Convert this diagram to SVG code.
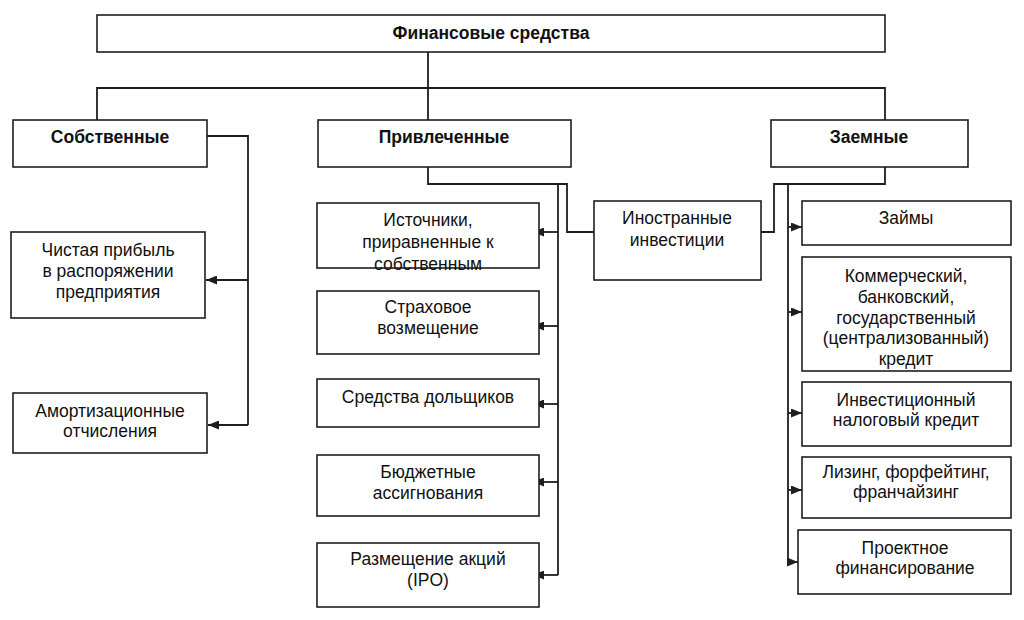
<svg xmlns="http://www.w3.org/2000/svg" width="1024" height="620" viewBox="0 0 1024 620">
<style>
.box{fill:#fff;stroke:#1e1e1e;stroke-width:1.6}
.t{font-family:"Liberation Sans",Arial,sans-serif;font-size:17.5px;fill:#111;text-anchor:middle}
.b{font-family:"Liberation Sans",Arial,sans-serif;font-size:17.5px;font-weight:bold;fill:#111;text-anchor:middle}
.c{fill:none;stroke:#1e1e1e;stroke-width:1.8}
</style>
<defs>
<marker id="arr" viewBox="0 0 11 9" refX="11" refY="4.5" markerWidth="11" markerHeight="9" markerUnits="userSpaceOnUse" orient="auto">
<path d="M0,0 L11,4.5 L0,9 z" fill="#1e1e1e"/>
</marker>
</defs>
<rect width="1024" height="620" fill="#fff"/>
<g id="connectors">
<path class="c" d="M428,52 V120"/>
<path class="c" d="M97,120 V88 H885 V120"/>
<path class="c" d="M207,136 H248 V425"/>
<path class="c" d="M248,280 H206" marker-end="url(#arr)"/>
<path class="c" d="M248,425 H208" marker-end="url(#arr)"/>
<path class="c" d="M428,167 V184 H567 V232 H594"/>
<path class="c" d="M558,184 V575"/>
<path class="c" d="M558,232 H533" marker-end="url(#arr)"/>
<path class="c" d="M558,326 H533" marker-end="url(#arr)"/>
<path class="c" d="M558,404 H533" marker-end="url(#arr)"/>
<path class="c" d="M558,482 H533" marker-end="url(#arr)"/>
<path class="c" d="M558,575 H533" marker-end="url(#arr)"/>
<path class="c" d="M885,167 V184 H774 V232 H761"/>
<path class="c" d="M788,184 V562"/>
<path class="c" d="M788,227 H802" marker-end="url(#arr)"/>
<path class="c" d="M788,312 H802" marker-end="url(#arr)"/>
<path class="c" d="M788,413 H802" marker-end="url(#arr)"/>
<path class="c" d="M788,490 H802" marker-end="url(#arr)"/>
<path class="c" d="M788,562 H798" marker-end="url(#arr)"/>
</g>
<g id="root"><rect class="box" x="97" y="15" width="788" height="37"/><text class="b" x="491" y="39">Финансовые средства</text></g>
<g id="own"><rect class="box" x="13" y="120" width="194" height="47"/><text class="b" x="110" y="143">Собственные</text></g>
<g id="attracted"><rect class="box" x="318" y="120" width="253" height="47"/><text class="b" x="444" y="143">Привлеченные</text></g>
<g id="borrowed"><rect class="box" x="771" y="120" width="197" height="47"/><text class="b" x="869" y="143">Заемные</text></g>
<g id="profit"><rect class="box" x="11" y="232" width="194" height="86"/><text class="t" x="108" y="256">Чистая прибыль</text><text class="t" x="108" y="277">в распоряжении</text><text class="t" x="108" y="298">предприятия</text></g>
<g id="amort"><rect class="box" x="13" y="393" width="194" height="60"/><text class="t" x="110" y="417">Амортизационные</text><text class="t" x="110" y="437">отчисления</text></g>
<g id="equiv"><rect class="box" x="317" y="203" width="222" height="65"/><text class="t" x="428" y="226">Источники,</text><text class="t" x="428" y="248">приравненные к</text><text class="t" x="428" y="270">собственным</text></g>
<g id="insurance"><rect class="box" x="317" y="291" width="222" height="63"/><text class="t" x="428" y="313">Страховое</text><text class="t" x="428" y="334">возмещение</text></g>
<g id="shareholders"><rect class="box" x="317" y="379" width="222" height="48"/><text class="t" x="428" y="403">Средства дольщиков</text></g>
<g id="budget"><rect class="box" x="317" y="455" width="222" height="61"/><text class="t" x="428" y="478">Бюджетные</text><text class="t" x="428" y="499">ассигнования</text></g>
<g id="ipo"><rect class="box" x="317" y="543" width="222" height="64"/><text class="t" x="428" y="565">Размещение акций</text><text class="t" x="428" y="586">(IPO)</text></g>
<g id="foreign"><rect class="box" x="594" y="201" width="167" height="79"/><text class="t" x="677" y="224">Иностранные</text><text class="t" x="677" y="246">инвестиции</text></g>
<g id="loans"><rect class="box" x="802" y="201" width="209" height="44"/><text class="t" x="906" y="224">Займы</text></g>
<g id="credit"><rect class="box" x="802" y="257" width="209" height="114"/><text class="t" x="906" y="282">Коммерческий,</text><text class="t" x="906" y="303">банковский,</text><text class="t" x="906" y="324">государственный</text><text class="t" x="906" y="344">(централизованный)</text><text class="t" x="906" y="365">кредит</text></g>
<g id="taxcredit"><rect class="box" x="802" y="382" width="209" height="64"/><text class="t" x="906" y="406">Инвестиционный</text><text class="t" x="906" y="426">налоговый кредит</text></g>
<g id="leasing"><rect class="box" x="802" y="457" width="209" height="61"/><text class="t" x="906" y="478">Лизинг, форфейтинг,</text><text class="t" x="906" y="498">франчайзинг</text></g>
<g id="project"><rect class="box" x="798" y="530" width="213" height="64"/><text class="t" x="905" y="554">Проектное</text><text class="t" x="905" y="574">финансирование</text></g>
</svg>
